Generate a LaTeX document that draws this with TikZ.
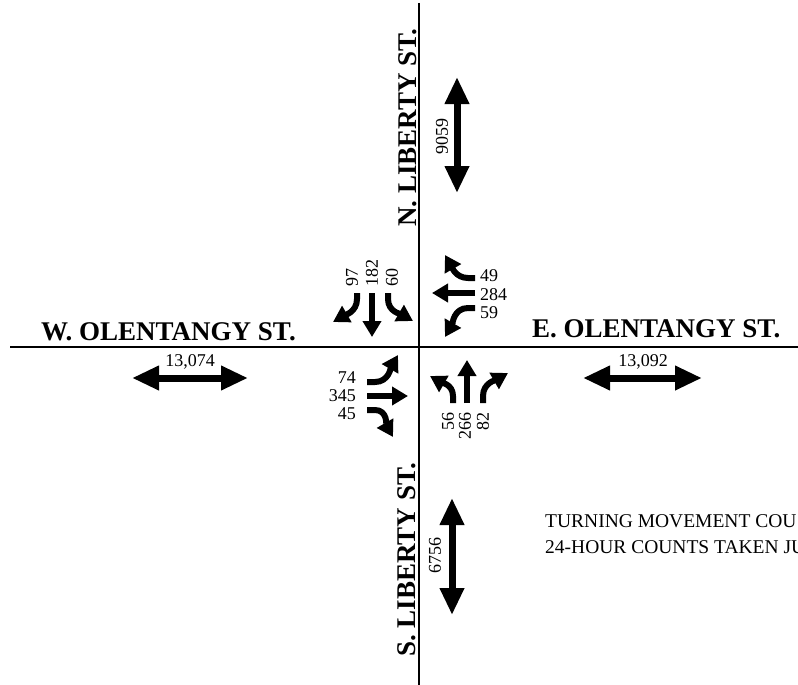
\documentclass[tikz,border=0pt]{standalone}
\usepackage{fontspec}
\setmainfont{Liberation Serif}
\usetikzlibrary{arrows.meta}

\begin{document}
\begin{tikzpicture}[
  x=1pt, y=-1pt,
  road/.style={line width=1.6pt},
  turn/.style={line width=6pt, -{Triangle[width=18pt,length=16pt]}},
  total/.style={line width=7pt,
                {Triangle[width=23pt,length=27pt]}-{Triangle[width=23pt,length=27pt]}},
  street/.style={font=\fontsize{27}{27}\selectfont\bfseries, inner sep=0pt},
  count/.style={font=\fontsize{18}{18}\selectfont, inner sep=0pt},
  note/.style={font=\fontsize{19.5}{19.5}\selectfont, inner sep=0pt}
]
  \useasboundingbox (0,0) rectangle (798,685);

  % streets
  \draw[road] (419,3) -- (419,685);
  \draw[road] (10,347) -- (798,347);
  \node[street, anchor=base west] (wname) at (41,340) {W. OLENTANGY ST.};
  \node[street, anchor=base west] (ename) at (532,337) {E. OLENTANGY ST.};
  \node[street, rotate=90, anchor=base west] (nname) at (416,227) {N. LIBERTY ST.};
  \node[street, rotate=90, anchor=base west] (sname) at (415,657) {S. LIBERTY ST.};

  % 24-hour totals
  \draw[total] (457,77) -- (457,193);
  \node[count, rotate=90] (ntot) at (442,136) {9059};
  \draw[total] (452,498) -- (452,615);
  \node[count, rotate=90] (stot) at (435,555) {6756};
  \draw[total] (132,378) -- (248,378);
  \node[count] (wtot) at (190,362) {13,074};
  \draw[total] (583,378) -- (702,378);
  \node[count] (etot) at (643,362) {13,092};

  % southbound
  \draw[turn] (357,293) -- (357,299) to[out=-90, in=30] (333,322);
  \draw[turn] (372,293) -- (372,337);
  \draw[turn] (388,293) -- (388,299) to[out=-90, in=150] (413,321);
  \node[count, rotate=90, anchor=west] (sbr) at (352,287) {97};
  \node[count, rotate=90, anchor=west] (sbt) at (372,287) {182};
  \node[count, rotate=90, anchor=west] (sbl) at (392,287) {60};

  % westbound
  \draw[turn] (475,278) -- (468,278) to[out=180, in=-60] (445,255);
  \draw[turn] (475,293) -- (432,293);
  \draw[turn] (475,308) -- (468,308) to[out=180, in=60] (445,337);
  \node[count, anchor=west] (wbr) at (480,276) {49};
  \node[count, anchor=west] (wbt) at (480,295) {284};
  \node[count, anchor=west] (wbl) at (480,313) {59};

  % eastbound
  \draw[turn] (367,382) -- (375,382) to[out=0, in=240] (398,355);
  \draw[turn] (367,396) -- (408,396);
  \draw[turn] (367,410) -- (375,410) to[out=0, in=120] (393,437);
  \node[count, anchor=east] (ebl) at (356,378) {74};
  \node[count, anchor=east] (ebt) at (356,396) {345};
  \node[count, anchor=east] (ebr) at (356,414) {45};

  % northbound
  \draw[turn] (453,403) -- (453,396) to[out=90, in=-30] (430,376);
  \draw[turn] (467,403) -- (467,360);
  \draw[turn] (483,403) -- (483,396) to[out=90, in=210] (508,373);
  \node[count, rotate=90, anchor=east] (nbl) at (448,412) {56};
  \node[count, rotate=90, anchor=east] (nbt) at (465,412) {266};
  \node[count, rotate=90, anchor=east] (nbr) at (483,412) {82};

  \node[note, anchor=base west] (note1) at (545,527) {TURNING MOVEMENT COU};
  \node[note, anchor=base west] (note2) at (545,553) {24-HOUR COUNTS TAKEN JU};
\end{tikzpicture}
\end{document}
